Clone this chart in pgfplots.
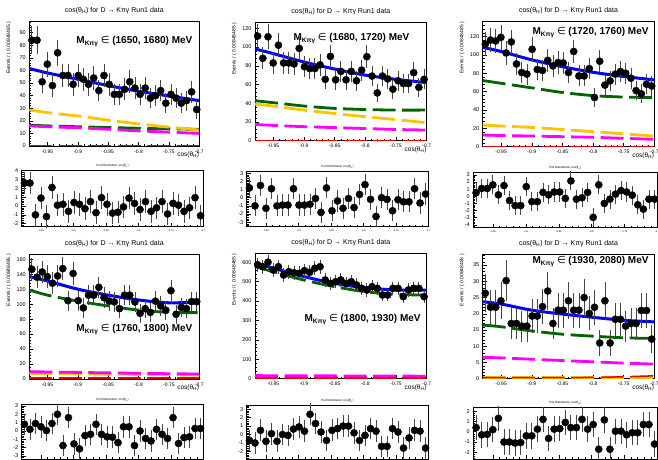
\documentclass[border=0pt]{standalone}
\usepackage{pgfplots}
\pgfplotsset{compat=1.18}
\usepackage{pgfplotstable}
\usepackage{fontspec}
\setmainfont{Liberation Sans}
\newfontfamily\dejavu{DejaVu Sans}
\definecolor{rblue}{RGB}{0,0,255}
\definecolor{rgreen}{RGB}{0,100,0}
\definecolor{ryellow}{RGB}{255,195,0}
\definecolor{rmagenta}{RGB}{255,0,255}
\definecolor{rred}{RGB}{230,0,0}
\definecolor{errgray}{RGB}{70,70,70}

\pgfplotstableread{
x a1 a2 a3 a4 a5 a6 p1 p2 p3 p4 p5 p6
-0.97576 84 111.7 111.6 146.6 587.6 26.3 2.6 1.2 0.5 0.8 -0.7 0.4
-0.96727 84 88 116 136 577 22 2.6 -1.0 1.1 0.2 -1.0 -0.3
-0.95879 51 111 115 143 600 22 -1.0 1.5 1.1 0.9 0.5 -0.25
-0.95030 65 83 119 136.8 560 24 0.9 -1.3 1.6 0.5 -0.8 0.2
-0.94182 48 102 102 128 577 30.2 -1.2 1.1 0.2 0.05 0.1 1.3
-0.93333 74 83 114 137.7 534 17 2.1 -1.0 1.5 0.9 -0.8 -1.0
-0.92485 56 83 90 147.5 551.5 17 0.1 -0.9 -0.6 2.0 0 -1.0
-0.91636 56 82 80.7 104.7 546 16.2 0.2 -0.9 -1.3 -1.75 -0.1 -1.1
-0.90788 49 98.6 79 141 543 16.2 -0.6 1.1 -1.3 1.6 0.65 -1.05
-0.89939 56 79 106 104.7 556.7 19.3 0.4 -0.9 1.35 -1.55 0.9 -0.4
-0.89091 53 77 84 95 548 19.3 0.2 -0.9 -0.75 -2.15 0.4 -0.4
-0.88242 49 77 83 112 569 22.2 -0.3 -0.8 -0.75 -0.55 2.4 0.25
-0.87394 54 81 94 112 577 27 0.5 -0.1 0.55 -0.4 1.3 1.2
-0.86545 44 65.5 88 122.5 508.6 17 -0.75 -1.8 0.2 0.8 0.3 -0.65
-0.85697 56 90 91.6 108.7 491 21.1 0.95 1.2 0.6 -0.4 -0.7 0.25
-0.84848 49 65 91 104 500 21.1 0.2 -1.6 0.6 -0.7 0.5 0.3
-0.84000 41 74 80.7 103 508.6 24 -0.8 -0.4 -0.3 -0.75 0.7 0.9
-0.83152 41 65 103.6 94 491 21.1 -0.7 -1.3 2.15 -1.4 1.0 0.4
-0.82303 45 74 77 112 500 21.1 -0.1 -0.1 -0.4 0.5 1.0 0.4
-0.81455 51 64 77 112 483 25 0.9 -1.2 -0.2 0.5 0.2 1.2
-0.80606 46 75.4 85 103 465.6 20.1 0.3 0.4 0.55 -1.75 -0.7 0.25
-0.79758 41 89.7 53.5 87.8 457 22 -0.4 1.6 -2.95 0 -0.1 0.7
-0.78909 46 69 93 94 474 11 0.5 -0.2 1.6 -0.9 0.7 -1.7
-0.78061 38 51 67 89 465.6 24 -0.6 -2.3 -1.0 -1.2 0.4 1.15
-0.77212 40 69 71.6 104 431 11 -0.2 0 -0.4 0.2 -1.4 -1.7
-0.76364 44 66 79 97.6 431 18.3 0.5 -0.2 0.3 -0.4 -1.4 0.05
-0.75515 34 55 81.8 92 465.6 18.3 -0.9 -1.6 0.8 -0.9 0.7 0.05
-0.74667 41 64 80 118 465.6 16.2 0.3 -0.25 0.6 1.6 0.3 -0.3
-0.73818 38 61 74.5 86.5 422.7 17 0.1 -0.5 0.15 -1.5 -1.6 -0.1
-0.72970 34 61 61 95.8 457 17 -0.6 -0.5 -1.2 -0.8 -0.4 -0.1
-0.72121 36 72.6 57.5 94 465.6 21 -0.2 1.1 -1.8 -0.7 0.5 0.7
-0.71273 43 57 68 103.4 465.6 21 0.95 -0.65 -0.4 0.3 0.4 0.7
-0.70424 29 65.5 66 103.4 422.7 12.2 -1.1 0.45 -0.4 0.3 -1.6 -1.2
}\bins

\pgfplotsset{
  rootbase/.style={scale only axis, clip=false, xmin=-0.98, xmax=-0.7,
    tick align=inside, xtick pos=bottom, ytick pos=left,
    axis line style={line width=0.6pt},
    every tick/.style={black, line width=0.45pt},
    major tick length=4pt, minor tick length=2pt,
    minor x tick num=4,
    xtick={-0.95,-0.9,-0.85,-0.8,-0.75,-0.7},
    /pgf/number format/assume math mode=true,
    xticklabel style={/pgf/number format/fixed, /pgf/number format/precision=2},
    ticklabel style={font=\fontsize{5}{6}\selectfont},
    yticklabel style={font=\fontsize{5.5}{6}\selectfont},
  },
  mainax/.style={rootbase, ymin=0, minor y tick num=4,
    title={cos(θ\textsubscript{H}) for D → Kπγ Run1 data},
    every axis title/.style={font=\fontsize{7}{8}\selectfont, at={(0.5,1)}, anchor=base, yshift=9pt},
    xlabel={cos(θ\textsubscript{H})},
    xlabel style={font=\fontsize{6.5}{7}\selectfont, at={(axis description cs:1,0)}, anchor=north east, inner sep=0pt, yshift=-5.5pt},
    ylabel={Events / ( 0.00848485 )},
    ylabel style={font=\fontsize{5}{6}\selectfont, at={(axis description cs:-0.105,1)}, anchor=south east, inner sep=0pt},
  },
  pullax/.style={rootbase, ytick distance=1, minor y tick num=4,
    title={Pull Distribution cos(θ\textsubscript{H})},
    every axis title/.style={font=\fontsize{3}{3}\selectfont, at={(0.5,1)}, anchor=base, yshift=3.5pt},
    xticklabel style={font=\fontsize{2.5}{3}\selectfont},
  },
  datapts/.style={only marks, mark=*, mark size=3.6pt, black,
    error bars/y dir=both,
    error bars/error bar style={line width=0.8pt, errgray},
    error bars/error mark options={mark size=2.4pt, line width=0.8pt, errgray}},
  cblue/.style={rblue, line width=3pt, smooth},
  cgreen/.style={rgreen, line width=2.8pt, dash pattern=on 23pt off 6.5pt, smooth},
  cyellow/.style={ryellow, line width=2.8pt, dash pattern=on 23pt off 6.5pt, smooth},
  cmag/.style={rmagenta, line width=2.8pt, dash pattern=on 23pt off 6.5pt, smooth},
  cred/.style={rred, line width=1.5pt, dash pattern=on 23pt off 6.5pt, smooth},
}
\newcommand{\mlab}[1]{\fontsize{10}{12}\selectfont\bfseries M{\fontsize{6.5}{7}\selectfont\raisebox{-2pt}{Kπγ}} {\dejavu\mdseries ∈} (#1) MeV}

\begin{document}
\begin{tikzpicture}
% ---------- Panel 1 ----------
\begin{axis}[mainax, at={(29.3pt,-21.7pt)}, anchor=north west, width=170pt, height=124.3pt, ymax=98.7, ytick distance=10]
\addplot[cgreen] coordinates {(-0.98,16.5) (-0.95,16) (-0.9,15.3) (-0.85,14.7) (-0.8,14.1) (-0.75,13.6) (-0.7,13.3)};
\addplot[cyellow] coordinates {(-0.98,28.6) (-0.95,26.5) (-0.9,23.8) (-0.85,20.5) (-0.8,17.5) (-0.75,15) (-0.7,12.7)};
\addplot[cmag] coordinates {(-0.98,16) (-0.95,15.3) (-0.9,14.5) (-0.85,13.3) (-0.8,12) (-0.75,11) (-0.7,10)};
\addplot[cred] coordinates {(-0.98,0.3) (-0.7,0.3)};
\addplot[cblue] coordinates {(-0.98,61.5) (-0.95,58) (-0.9,53) (-0.85,48) (-0.8,43.5) (-0.75,39.7) (-0.7,36)};
\addplot[datapts, error bars/y explicit] table[x=x, y=a1, y error expr=sqrt(\thisrow{a1})] {\bins};
\node[anchor=east] at (rel axis cs:0.98,0.837) {\mlab{1650, 1680}};
\end{axis}
% ---------- Panel 2 ----------
\begin{axis}[mainax, at={(255pt,-22.7pt)}, anchor=north west, width=171.7pt, height=118pt, ymax=126, ytick distance=20]
\addplot[cgreen] coordinates {(-0.98,42.7) (-0.95,40.6) (-0.9,37) (-0.85,34.5) (-0.8,33.3) (-0.75,32.7) (-0.7,32.7)};
\addplot[cyellow] coordinates {(-0.98,39) (-0.95,37) (-0.9,32.7) (-0.85,29) (-0.8,25.6) (-0.75,22.5) (-0.7,19.2)};
\addplot[cmag] coordinates {(-0.98,17.4) (-0.95,16.3) (-0.9,15) (-0.85,14) (-0.8,13) (-0.75,12) (-0.7,11.4)};
\addplot[cred] coordinates {(-0.98,0.4) (-0.7,0.4)};
\addplot[cblue] coordinates {(-0.98,98) (-0.95,93) (-0.9,84) (-0.85,76.5) (-0.8,70) (-0.75,65.5) (-0.7,62)};
\addplot[datapts, error bars/y explicit] table[x=x, y=a2, y error expr=sqrt(\thisrow{a2})] {\bins};
\node[anchor=east] at (rel axis cs:0.92,0.862) {\mlab{1680, 1720}};
\end{axis}
% ---------- Panel 3 ----------
\begin{axis}[mainax, at={(482.7pt,-21.7pt)}, anchor=north west, width=171.6pt, height=125pt, ymax=136, ytick distance=20]
\addplot[cgreen] coordinates {(-0.98,72) (-0.95,69) (-0.9,64) (-0.85,59) (-0.8,55.6) (-0.75,54) (-0.7,53.5)};
\addplot[cyellow] coordinates {(-0.98,23.6) (-0.95,22.5) (-0.9,21) (-0.85,18.7) (-0.8,16.4) (-0.75,14) (-0.7,11.6)};
\addplot[cmag] coordinates {(-0.98,12.7) (-0.95,12.2) (-0.9,11.6) (-0.85,10.9) (-0.8,10.2) (-0.75,9.1) (-0.7,8)};
\addplot[cred] coordinates {(-0.98,0.4) (-0.7,0.4)};
\addplot[cblue] coordinates {(-0.98,108) (-0.95,103.6) (-0.9,94.5) (-0.85,87) (-0.8,81) (-0.75,76.4) (-0.7,72.7)};
\addplot[datapts, error bars/y explicit] table[x=x, y=a3, y error expr=sqrt(\thisrow{a3})] {\bins};
\node[anchor=east] at (rel axis cs:0.987,0.914) {\mlab{1720, 1760}};
\end{axis}
% ---------- Panel 4 ----------
\begin{axis}[mainax, at={(29.3pt,-254pt)}, anchor=north west, width=170pt, height=125pt, ymax=167, ytick distance=20]
\addplot[cgreen] coordinates {(-0.98,119) (-0.95,112) (-0.9,104) (-0.85,97.6) (-0.8,92) (-0.75,89) (-0.7,88.7)};
\addplot[cyellow] coordinates {(-0.98,7.6) (-0.95,7.3) (-0.9,6.9) (-0.85,6.5) (-0.8,6.1) (-0.75,5.7) (-0.7,5.3)};
\addplot[cmag] coordinates {(-0.98,9.8) (-0.95,9.4) (-0.9,8.8) (-0.85,8.2) (-0.8,7.6) (-0.75,7.1) (-0.7,6.7)};
\addplot[cred] coordinates {(-0.98,1.5) (-0.7,1.5)};
\addplot[cblue] coordinates {(-0.98,136.8) (-0.95,131) (-0.9,120) (-0.85,112) (-0.8,105.6) (-0.75,101.8) (-0.7,103)};
\addplot[datapts, error bars/y explicit] table[x=x, y=a4, y error expr=sqrt(\thisrow{a4})] {\bins};
\node[anchor=east] at (rel axis cs:0.98,0.392) {\mlab{1760, 1800}};
\end{axis}
% ---------- Panel 5 ----------
\begin{axis}[mainax, at={(255pt,-253.3pt)}, anchor=north west, width=171.7pt, height=125.4pt, ymax=646, ytick distance=100]
\addplot[cgreen] coordinates {(-0.98,577) (-0.95,551) (-0.9,508) (-0.85,474) (-0.8,448) (-0.75,435) (-0.7,430)};
\addplot[cyellow] coordinates {(-0.98,5) (-0.7,5)};
\addplot[cmag] coordinates {(-0.98,16) (-0.95,15.5) (-0.9,15) (-0.85,14.5) (-0.8,14) (-0.75,13.5) (-0.7,13)};
\addplot[cred] coordinates {(-0.98,3) (-0.7,3)};
\addplot[cblue] coordinates {(-0.98,594) (-0.95,569) (-0.9,526) (-0.85,491) (-0.8,469) (-0.75,457) (-0.7,457)};
\addplot[datapts, error bars/y explicit] table[x=x, y=a5, y error expr=sqrt(\thisrow{a5})] {\bins};
\node[anchor=east] at (rel axis cs:0.985,0.468) {\mlab{1800, 1930}};
\end{axis}
% ---------- Panel 6 ----------
\begin{axis}[mainax, at={(482.7pt,-254pt)}, anchor=north west, width=171.6pt, height=124.7pt, ymax=38.4, ytick distance=5]
\addplot[cgreen] coordinates {(-0.98,16.5) (-0.95,16) (-0.9,14.7) (-0.85,13.7) (-0.8,13.1) (-0.75,12.6) (-0.7,12.4)};
\addplot[cyellow] coordinates {(-0.98,0.3) (-0.7,0.3)};
\addplot[cmag] coordinates {(-0.98,6.6) (-0.95,6.4) (-0.9,6) (-0.85,5.6) (-0.8,5.2) (-0.75,4.8) (-0.7,4.5)};
\addplot[cred] coordinates {(-0.98,0.3) (-0.8,0.4) (-0.7,0.9)};
\addplot[cblue] coordinates {(-0.98,23.7) (-0.95,23) (-0.9,21.1) (-0.85,19.9) (-0.8,18.9) (-0.75,18) (-0.7,17.5)};
\addplot[datapts, error bars/y explicit] table[x=x, y=a6, y error expr=sqrt(\thisrow{a6})] {\bins};
\node[anchor=east] at (rel axis cs:0.987,0.936) {\mlab{1930, 2080}};
\end{axis}
% ---------- Pulls ----------
\begin{axis}[pullax, at={(21.7pt,-170pt)}, anchor=north west, width=181.6pt, height=56.7pt, ymin=-2.34, ymax=4.08]
\addplot[datapts, error bars/y fixed=1] table[x=x, y=p1] {\bins};
\end{axis}
\begin{axis}[pullax, at={(246.7pt,-171pt)}, anchor=north west, width=181.6pt, height=55.7pt, ymin=-3.55, ymax=3.27]
\addplot[datapts, error bars/y fixed=1] table[x=x, y=p2] {\bins};
\end{axis}
\begin{axis}[pullax, at={(473.3pt,-172pt)}, anchor=north west, width=184pt, height=55.7pt, ymin=-4.4, ymax=3.4]
\addplot[datapts, error bars/y fixed=1] table[x=x, y=p3] {\bins};
\end{axis}
\begin{axis}[pullax, at={(21.7pt,-404.3pt)}, anchor=north west, width=181.6pt, height=55pt, ymin=-3.4, ymax=3.2, xticklabels={}]
\addplot[datapts, error bars/y fixed=1] table[x=x, y=p4] {\bins};
\end{axis}
\begin{axis}[pullax, at={(246.7pt,-405pt)}, anchor=north west, width=181.6pt, height=54pt, ymin=-2.9, ymax=3.5, xticklabels={}]
\addplot[datapts, error bars/y fixed=1] table[x=x, y=p5] {\bins};
\end{axis}
\begin{axis}[pullax, at={(473.3pt,-407pt)}, anchor=north west, width=184pt, height=52pt, ymin=-2.65, ymax=2.4, xticklabels={}]
\addplot[datapts, error bars/y fixed=1] table[x=x, y=p6] {\bins};
\end{axis}
\pgfresetboundingbox
\path[use as bounding box] (0,0) rectangle (658pt,-459pt);
\end{tikzpicture}
\end{document}
